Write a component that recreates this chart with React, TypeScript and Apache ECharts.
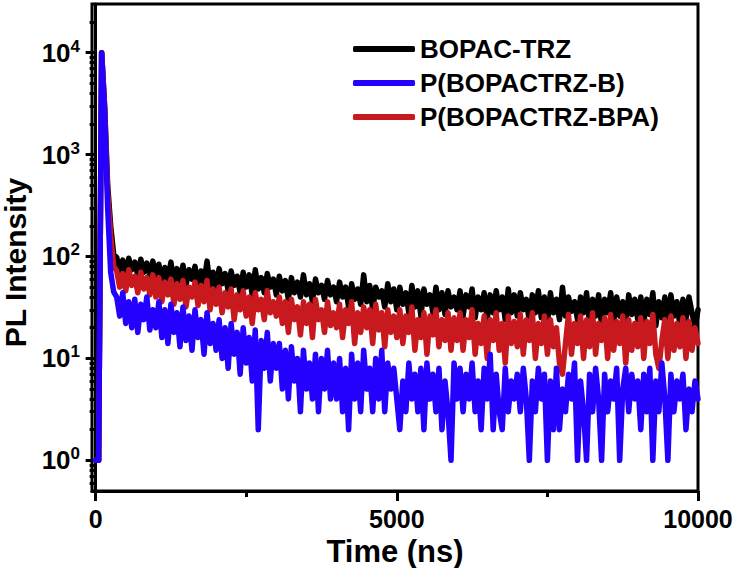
import React, { useEffect, useRef } from 'react';
import * as echarts from 'echarts';

// Sampling step of the decay traces (ns)
const TIME_STEP_NS = 50;

// PL decay counts, one value per 50 ns (0 ... 10000 ns)
const BOPAC_TRZ = [
  1, 1, 10000, 3000, 500, 200, 105, 98, 72, 92, 68, 96, 74, 88, 66, 94, 70, 86, 64, 90,
  62, 84, 56, 78, 60, 88, 54, 76, 58, 82, 52, 74, 60, 80, 50, 72, 56, 90, 52, 70,
  48, 76, 54, 68, 46, 72, 52, 64, 44, 70, 50, 66, 42, 74, 48, 62, 44, 68, 50, 60,
  42, 64, 46, 58, 38, 62, 44, 56, 40, 66, 42, 54, 36, 60, 44, 52, 38, 58, 42, 50,
  36, 56, 40, 50, 32, 54, 38, 48, 34, 66, 36, 52, 30, 50, 40, 46, 32, 54, 36, 48,
  30, 50, 34, 44, 28, 52, 32, 46, 26, 48, 34, 42, 28, 50, 30, 44, 27, 46, 32, 40,
  30, 46, 26, 42, 32, 48, 25, 40, 30, 44, 24, 42, 28, 46, 30, 40, 24, 48, 28, 42,
  26, 44, 30, 38, 23, 42, 28, 46, 25, 40, 22, 44, 28, 38, 24, 50, 26, 40, 29, 36,
  24, 40, 28, 44, 22, 38, 26, 42, 21, 38, 28, 44, 23, 40, 26, 36, 22, 42, 27, 38,
  24, 40, 22, 38, 27, 44, 21, 36, 25, 40, 22, 42, 26, 36, 21, 38, 24, 40, 28, 20,
  30,
];

const P_BOPACTRZ_B = [
  1, 1, 10000, 2500, 300, 70, 45, 40, 26, 44, 22, 36, 20, 38, 18, 34, 24, 40, 19, 30,
  20, 36, 16, 30, 14, 34, 18, 28, 13, 32, 15, 26, 12, 30, 16, 24, 11, 28, 14, 22,
  12, 24, 10, 20, 8, 22, 11, 18, 7, 20, 9, 16, 6, 19, 2, 15, 8, 18, 6, 14,
  8, 14, 5, 12, 4, 13, 6, 10, 3, 12, 5, 9, 4, 11, 3, 10, 5, 12, 4, 9,
  4, 10, 3, 8, 2, 11, 4, 9, 3, 12, 5, 8, 3, 10, 4, 12, 3, 9, 5, 8,
  4, 2, 6, 3, 9, 4, 7, 3, 8, 2, 9, 4, 7, 3, 8, 2, 6, 3, 1, 9,
  4, 8, 3, 7, 4, 9, 3, 6, 2, 8, 4, 11, 2, 7, 3, 2, 8, 3, 6, 4,
  7, 3, 8, 4, 1, 6, 3, 8, 4, 7, 1, 6, 2, 8, 2, 5, 3, 7, 4, 9,
  1, 6, 3, 1, 7, 3, 8, 4, 1, 7, 3, 6, 4, 8, 1, 5, 8, 3, 7, 4,
  6, 2, 7, 3, 8, 1, 6, 3, 9, 4, 1, 7, 3, 6, 4, 7, 2, 5, 3, 6,
  4,
];

const P_BOPACTRZ_BPA = [
  1, 1, 10000, 2800, 420, 160, 80, 72, 50, 68, 46, 74, 52, 64, 44, 70, 48, 62, 42, 66,
  40, 62, 36, 56, 42, 60, 34, 54, 38, 58, 32, 50, 40, 56, 33, 52, 36, 58, 30, 48,
  34, 50, 28, 44, 32, 48, 24, 42, 30, 46, 26, 40, 22, 44, 30, 38, 24, 46, 28, 36,
  26, 40, 22, 36, 18, 38, 24, 32, 17, 36, 22, 34, 16, 38, 24, 30, 18, 36, 21, 28,
  20, 34, 16, 30, 22, 36, 14, 28, 18, 32, 20, 30, 14, 34, 19, 28, 13, 30, 18, 26,
  16, 30, 14, 26, 18, 32, 12, 24, 16, 28, 11, 26, 17, 30, 13, 24, 15, 28, 12, 25,
  15, 28, 12, 24, 16, 30, 11, 22, 14, 26, 10, 24, 15, 28, 12, 22, 9, 26, 14, 23,
  13, 27, 11, 24, 15, 28, 10, 22, 14, 26, 11, 24, 13, 20, 9, 7, 14, 27, 11, 22,
  14, 26, 10, 24, 13, 28, 11, 22, 15, 25, 10, 27, 12, 23, 14, 26, 9, 24, 12, 22,
  13, 25, 10, 23, 14, 27, 11, 8, 15, 24, 10, 26, 12, 22, 13, 25, 10, 23, 12, 20,
  14,
];

const TIME_NS = BOPAC_TRZ.map((_, i) => i * TIME_STEP_NS);

const SERIES_NAMES = ['BOPAC-TRZ', 'P(BOPACTRZ-B)', 'P(BOPACTRZ-BPA)'];

const X_MAJOR_TICKS = [0, 5000, 10000];
const X_MINOR_TICKS = [2500, 7500];
const Y_MAJOR_TICKS = [1, 10, 100, 1000, 10000];
const Y_MINOR_TICKS = [
  0.6, 0.7, 0.8, 0.9,
  2, 3, 4, 5, 6, 7, 8, 9,
  20, 30, 40, 50, 60, 70, 80, 90,
  200, 300, 400, 500, 600, 700, 800, 900,
  2000, 3000, 4000, 5000, 6000, 7000, 8000, 9000,
  20000,
];

const FONT = 'Liberation Sans, Arial, Helvetica, sans-serif';

export default function App() {
  const ref = useRef<HTMLDivElement>(null);

  useEffect(() => {
    document.body.style.margin = '0';
    const chart = echarts.init(ref.current as HTMLDivElement, null, { renderer: 'svg' });

    const defs = [
      { name: SERIES_NAMES[0], values: BOPAC_TRZ, color: '#000000' },
      { name: SERIES_NAMES[2], values: P_BOPACTRZ_BPA, color: '#c8191e' },
      { name: SERIES_NAMES[1], values: P_BOPACTRZ_B, color: '#2400ff' },
    ];

    const series = defs.map((s) => ({
      type: 'line',
      name: s.name,
      data: TIME_NS.map((t, i) => [t, s.values[i]]),
      showSymbol: false,
      symbol: 'none',
      xAxisIndex: 0,
      yAxisIndex: 0,
      lineStyle: { color: s.color, width: 5.5, cap: 'round', join: 'round' },
      itemStyle: { color: s.color },
      emphasis: { disabled: true },
    }));

    const tickLine = { color: '#000', width: 3 };
    const labelBase = { color: '#000', fontWeight: 'bold', fontFamily: FONT };

    chart.setOption({
      animation: false,
      grid: {
        left: 92,
        top: 4,
        width: 606,
        height: 487,
        show: true,
        borderColor: '#000',
        borderWidth: 3,
        backgroundColor: 'transparent',
        containLabel: false,
        outerBoundsMode: 'none',
      },
      legend: {
        data: SERIES_NAMES,
        orient: 'vertical',
        left: 348,
        top: 31,
        itemWidth: 62,
        itemHeight: 6,
        itemGap: 8,
        icon: 'roundRect',
        selectedMode: false,
        textStyle: { ...labelBase, fontSize: 26 },
      },
      xAxis: [
        {
          type: 'value',
          min: -60,
          max: 10000,
          name: 'Time (ns)',
          nameLocation: 'middle',
          nameGap: 37,
          nameTextStyle: { ...labelBase, fontSize: 31 },
          axisLine: { show: true, lineStyle: tickLine },
          axisTick: { show: true, inside: false, length: 10, lineStyle: tickLine, customValues: X_MAJOR_TICKS },
          axisLabel: {
            ...labelBase,
            fontSize: 25,
            margin: 15,
            customValues: X_MAJOR_TICKS,
            formatter: (v: number) => String(v),
          },
          splitLine: { show: false },
        },
        {
          type: 'value',
          min: -60,
          max: 10000,
          position: 'bottom',
          axisLine: { show: false },
          axisTick: { show: true, inside: false, length: 6, lineStyle: tickLine, customValues: X_MINOR_TICKS },
          axisLabel: { show: false },
          splitLine: { show: false },
        },
      ],
      yAxis: [
        {
          type: 'log',
          logBase: 10,
          min: 0.5,
          max: 30000,
          name: 'PL Intensity',
          nameLocation: 'middle',
          nameGap: 57,
          nameTextStyle: { ...labelBase, fontSize: 30, padding: [0, 30, 0, 0] },
          axisLine: { show: true, lineStyle: tickLine },
          axisTick: { show: true, inside: false, length: 10, lineStyle: tickLine, customValues: Y_MAJOR_TICKS },
          axisLabel: {
            customValues: Y_MAJOR_TICKS,
            margin: 12,
            formatter: (v: number) => `{b|10}{s|${Math.round(Math.log10(v))}}`,
            rich: {
              b: { ...labelBase, fontSize: 26, lineHeight: 30 },
              s: { ...labelBase, fontSize: 17, verticalAlign: 'top', lineHeight: 18 },
            },
          },
          splitLine: { show: false },
          minorTick: { show: false },
        },
        {
          type: 'log',
          logBase: 10,
          min: 0.5,
          max: 30000,
          position: 'left',
          axisLine: { show: false },
          axisTick: { show: true, inside: false, length: 6, lineStyle: tickLine, customValues: Y_MINOR_TICKS },
          axisLabel: { show: false },
          splitLine: { show: false },
        },
      ],
      series,
    });

    return () => chart.dispose();
  }, []);

  return <div ref={ref} style={{ width: 736, height: 568 }} />;
}
